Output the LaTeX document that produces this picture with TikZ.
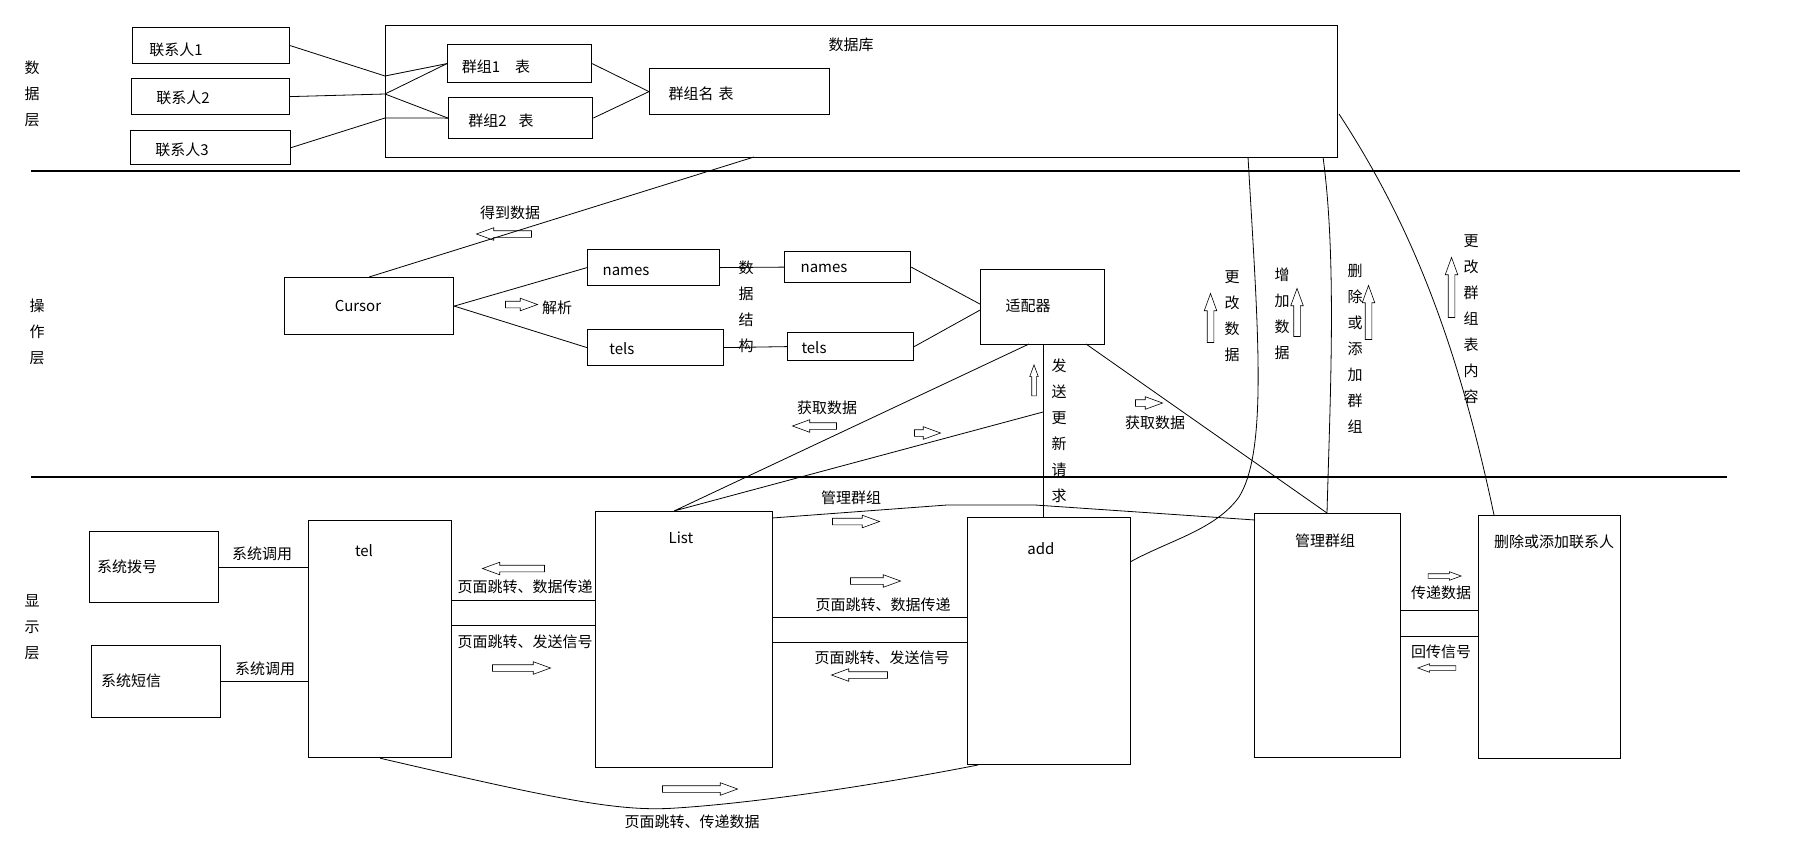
\documentclass[tikz,border=0pt]{standalone}
\usepackage{fontspec}
\setmainfont{Noto Sans CJK SC}
\usetikzlibrary{shapes.arrows,calc}

% box by its top-left and bottom-right corners
\newcommand\mkbox[5]{\node[box, minimum width={#4-#2}, minimum height={#5-#3}] (#1) at (#2,#3) {};}

\begin{document}
\begin{tikzpicture}[x=1pt,y=-1pt,
  box/.style={draw, line width=1.2pt, inner sep=0pt, anchor=north west},
  txt/.style={inner sep=0pt, font=\fontsize{15}{18}\selectfont},
  vtxt/.style={inner sep=0pt, align=center, font=\fontsize{15}{26}\selectfont},
  link/.style={line width=0.8pt},
  sepline/.style={line width=1.2pt},
  hollow/.style={draw, single arrow, line width=0.6pt, inner sep=3pt, minimum width=0pt,
                 single arrow head extend=3pt, single arrow tip angle=40},
  hollowsm/.style={hollow, inner sep=2pt, single arrow head extend=2pt},
]
\useasboundingbox (0,0) rectangle (1814,852);

% ---------- layer separators ----------
\coordinate (s1a) at (31,171);  \coordinate (s1b) at (1740,171);
\coordinate (s2a) at (31,477);  \coordinate (s2b) at (1727,477);
\draw[sepline] (s1a) -- (s1b);
\draw[sepline] (s2a) -- (s2b);

% ---------- layer names ----------
\node[vtxt] (l1) at (32,94) {数\\据\\层};
\node[vtxt] (l2) at (37,332) {操\\作\\层};
\node[vtxt] (l3) at (32,627) {显\\示\\层};

% ---------- data layer ----------
\mkbox{c1}{132}{27}{289}{63}
\mkbox{c2}{131}{78}{289}{114}
\mkbox{c3}{130}{130}{290}{164}
\mkbox{db}{385}{25}{1337}{157}
\mkbox{g1}{447}{44}{591}{82}
\mkbox{g2}{448}{97}{592}{138}
\mkbox{gn}{649}{68}{829}{114}
\node[txt] (c1t) at (176,50) {联系人1};
\node[txt] (c2t) at (183,98) {联系人2};
\node[txt] (c3t) at (182,150) {联系人3};
\node[txt] (dbt) at (851,45) {数据库};
\node[txt] (g1t) at (496,67) {群组1\hspace{15pt}表};
\node[txt] (g2t) at (501,121) {群组2\hspace{12pt}表};
\node[txt] (gnt) at (701,94) {群组名\hspace{5pt}表};

\coordinate (j1) at (385,76);
\coordinate (j2) at (385,94);
\coordinate (j3) at (385,118);
\draw[link] (c1.east) -- (j1) -- (g1.west);
\draw[link] (c2.east) -- (j2) -- (g1.west);
\draw[link] (j2) -- (g2.west);
\draw[link] (c3.east) -- (j3) -- (g2.west);
\draw[link] (g1.east) -- (gn.west);
\draw[link] (g2.east) -- (gn.west);

% ---------- operation layer ----------
\mkbox{cursor}{284}{277}{453}{334}
\mkbox{names1}{587}{249}{719}{285}
\mkbox{tels1}{587}{329}{723}{365}
\mkbox{names2}{784}{251}{910}{282}
\mkbox{tels2}{787}{332}{913}{360}
\mkbox{adapter}{980}{269}{1104}{344}
\node[txt] (cursort) at (358,306) {Cursor};
\node[txt] (names1t) at (626,271) {names};
\node[txt] (tels1t) at (622,349) {tels};
\node[txt] (names2t) at (824,268) {names};
\node[txt] (tels2t) at (814,348) {tels};
\node[txt] (adaptert) at (1028,306) {适配器};
\node[vtxt] (structt) at (746,307) {数\\据\\结\\构};

\coordinate (dbc) at (754,157);
\draw[link] (dbc) -- (cursor.north);
\node[txt] (getd) at (510,213) {得到数据};
\node[hollow, minimum height=55, shape border rotate=180] (getda) at (508.5,234) {};

\draw[link] (cursor.east) -- (names1.west);
\draw[link] (cursor.east) -- (tels1.west);
\node[hollow, minimum height=32] (parsea) at (517,304.5) {};
\node[txt] (parset) at (557,308) {解析};
\draw[link] (names1.east) -- (names2.west);
\draw[link] (tels1.east) -- (tels2.west);
\draw[link] (names2.east) -- ($(adapter.west)+(0,-3)$);
\draw[link] (tels2.east) -- ($(adapter.west)+(0,3)$);

% adapter towards the display layer
\coordinate (vt) at (1043,344);
\coordinate (vm) at (1043,412);
\coordinate (ab) at (1029,344);
\coordinate (abr) at (1086,344);
\coordinate (lt) at (674,511);
\draw[link] (vt) -- (vt |- 0,517);
\draw[link] (ab) -- (lt) -- (vm);
\node[vtxt] (sendt) at (1059,430.5) {发\\送\\更\\新\\请\\求};
\node[hollowsm, minimum height=31, shape border rotate=90] (senda) at (1034,383.5) {};
\node[txt] (fetch1) at (827,408) {获取数据};
\node[hollow, minimum height=44, shape border rotate=180] (fetch1a) at (819,426) {};
\node[hollow, minimum height=26] (pusha) at (923,433) {};
\node[hollow, minimum height=27] (fetch2a) at (1144.5,403) {};
\node[txt] (fetch2) at (1155,423) {获取数据};

% database links
\coordinate (dbe) at (1248,157);
\coordinate (dbf) at (1323,157);
\coordinate (dbr) at (1339,114);
\coordinate (mgt) at (1327,513);
\coordinate (ar) at (1130,562);
\coordinate (dct) at (1494,515);
\draw[link] (abr) -- (mgt);
\draw[link] (dbe) .. controls (1258,330) and (1268,450) .. (1239,497)
              .. controls (1215,530) and (1170,540) .. (ar);
\draw[link] (dbf) .. controls (1337,260) and (1330,400) .. (mgt);
\draw[link] (dbr) .. controls (1405,215) and (1455,330) .. (dct);

\node[vtxt] (chgd) at (1232,316) {更\\改\\数\\据};
\node[hollow, minimum height=49, shape border rotate=90] (chgda) at (1210.5,322.5) {};
\node[vtxt] (addd) at (1282,313.5) {增\\加\\数\\据};
\node[hollow, minimum height=48, shape border rotate=90] (addda) at (1297,317) {};
\node[vtxt] (grp) at (1355,348.5) {删\\除\\或\\添\\加\\群\\组};
\node[hollow, minimum height=54, shape border rotate=90] (grpa) at (1368.5,317) {};
\node[vtxt] (tbl) at (1471,319.5) {更\\改\\群\\组\\表\\内\\容};
\node[hollow, minimum height=60, shape border rotate=90] (tbla) at (1451.5,292) {};

% ---------- display layer ----------
\mkbox{dial}{89}{531}{218}{602}
\mkbox{sms}{91}{645}{220}{717}
\mkbox{tel}{308}{520}{451}{757}
\mkbox{list}{595}{511}{772}{767}
\mkbox{add}{967}{517}{1130}{764}
\mkbox{mg}{1254}{513}{1400}{757}
\mkbox{dc}{1478}{515}{1620}{758}
\node[txt] (dialt) at (127,567) {系统拨号};
\node[txt] (smst) at (131,681) {系统短信};
\node[txt] (telt) at (364,551) {tel};
\node[txt] (listt) at (681,538) {List};
\node[txt] (addt) at (1041,549) {add};
\node[txt] (mgt2) at (1325,541) {管理群组};
\node[txt] (dct2) at (1554,542) {删除或添加联系人};

% system calls
\draw[link] (dial.east) -- (dial.east -| tel.west);
\draw[link] (sms.east) -- (sms.east -| tel.west);
\node[txt] (call1) at (262,554) {系统调用};
\node[txt] (call2) at (265,669) {系统调用};

% tel <-> List
\draw[link] ($(tel.north east)+(0,80)$) coordinate (t1) -- (t1 -| list.west);
\draw[link] ($(tel.north east)+(0,105)$) coordinate (t2) -- (t2 -| list.west);
\node[hollow, minimum height=62, shape border rotate=180] (tla) at (518,568.5) {};
\node[txt] (tl1) at (525,587) {页面跳转、数据传递};
\node[txt] (tl2) at (525,642) {页面跳转、发送信号};
\node[hollow, minimum height=58] (tlb) at (517,668) {};

% List <-> add
\draw[link] ($(list.north east)+(0,106)$) coordinate (la1) -- (la1 -| add.west);
\draw[link] ($(list.north east)+(0,131)$) coordinate (la2) -- (la2 -| add.west);
\node[hollow, minimum height=50] (laa) at (871,581) {};
\node[txt] (la1t) at (883,605) {页面跳转、数据传递};
\node[txt] (la2t) at (882,658) {页面跳转、发送信号};
\node[hollow, minimum height=56, shape border rotate=180] (lab) at (864,675) {};

% List -> group management
\coordinate (lr) at (772,518);
\coordinate (mgl) at (1255,520);
\draw[link] (lr) -- (947,505) -- (1035,505) -- (mgl);
\node[txt] (mgtxt) at (851,498) {管理群组};
\node[hollow, minimum height=47] (mga) at (851.5,521.5) {};

% tel -> add
\coordinate (adb) at (978,765);
\draw[link] (tel.south) .. controls (560,800) and (620,812) .. (676,808)
                        .. controls (740,804) and (850,790) .. (adb);
\node[hollow, minimum height=75] (bta) at (695.5,789) {};
\node[txt] (btt) at (692,822) {页面跳转、传递数据};

% group management <-> contacts
\draw[link] ($(mg.north east)+(0,97)$) coordinate (m1) -- (m1 -| dc.west);
\draw[link] ($(mg.north east)+(0,123)$) coordinate (m2) -- (m2 -| dc.west);
\node[hollowsm, minimum height=33] (mda) at (1441.5,576) {};
\node[txt] (mdt) at (1441,593) {传递数据};
\node[txt] (mdt2) at (1441,652) {回传信号};
\node[hollowsm, minimum height=38, shape border rotate=180] (mdb) at (1440,668) {};
\end{tikzpicture}
\end{document}
